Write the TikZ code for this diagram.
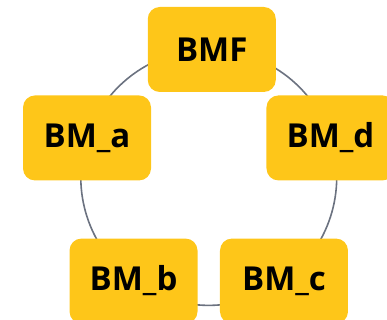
\documentclass[tikz,border=0pt]{standalone}
\usepackage{fontspec}
\setmainfont{Open Sans}
\usetikzlibrary{backgrounds}
\definecolor{boxyellow}{HTML}{FEC619}
\definecolor{ringgray}{HTML}{6B7280}
\tikzset{
  bmbox/.style={fill=boxyellow, rounded corners=12pt, minimum width=128pt,
    minimum height=85pt, inner sep=0pt,
    font=\fontsize{33}{40}\selectfont\bfseries},
  ring/.style={draw=ringgray, line width=1.6pt, bend right=36, looseness=0.94}
}
\begin{document}
\begin{tikzpicture}[x=1pt, y=1pt]
  \useasboundingbox (0,0) rectangle (387,-320);
  \begin{scope}[shift={(208.75,-177.5)}]
    \draw
      (90:128) coordinate (top) node[bmbox, xshift=3pt] (f){BMF}
      (162:128) node[bmbox] (a){BM\_a}
      (234:128) node[bmbox] (b){BM\_b}
      (306:128) node[bmbox] (c){BM\_c}
      (18:128) node[bmbox] (d){BM\_d};
  \end{scope}
  \begin{scope}[on background layer]
    \draw[ring] (top) to (a.center);
    \draw[ring] (a.center) to (b.center);
    \draw[ring] (b.center) to (c.center);
    \draw[ring] (c.center) to (d.center);
    \draw[ring] (d.center) to (top);
  \end{scope}
\end{tikzpicture}
\end{document}
